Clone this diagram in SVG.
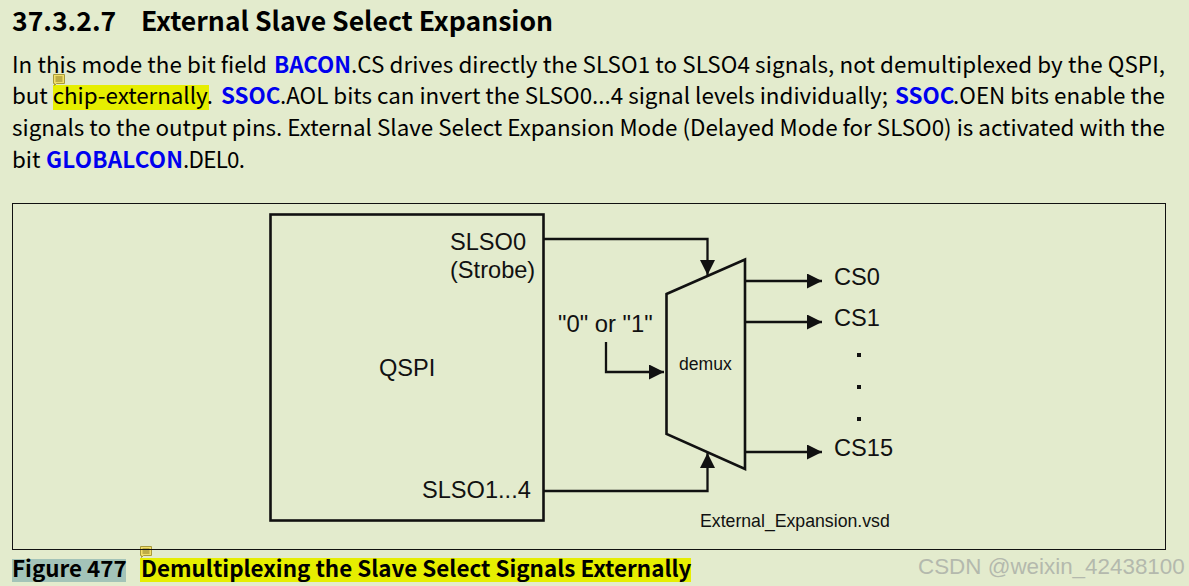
<svg xmlns="http://www.w3.org/2000/svg" width="1189" height="586" viewBox="0 0 1189 586">
<style>
.doc{font-family:"Noto Sans CJK SC","Noto Sans",sans-serif;fill:#000}
.body{font-size:22.400px}
.b{font-weight:700}
.link{font-weight:700;fill:#0000ee}
.fig{font-family:"Liberation Sans",Arial,sans-serif;fill:#111}
.big{font-size:23.600px}
.ln{fill:none;stroke:#111;stroke-width:2.300}
.thick{fill:none;stroke:#111;stroke-width:2.600}
.note{fill:#f2e06a;stroke:#a89a3a;stroke-width:1}
.noteline{stroke:#8a7a20;stroke-width:1}
</style>
<defs>
<marker id="ah" markerUnits="userSpaceOnUse" markerWidth="15" markerHeight="15" refX="15" refY="7.500" orient="auto"><path d="M0 0L15 7.500L0 15Z" fill="#111"/></marker>
</defs>
<rect width="1189" height="586" fill="#e3ebcd"/>
<rect x="53" y="85" width="156" height="25" fill="#e6ee00"/>
<rect x="12" y="559" width="114" height="23" fill="#a3c3b8"/>
<rect x="140" y="558" width="551" height="24" fill="#e6ee00"/>
<g id="heading"><text class="doc b" x="12" y="31" font-size="26.550">37.3.2.7</text><text class="doc b" x="141" y="31" font-size="26.550">External Slave Select Expansion</text></g>
<g id="paragraph">
<text class="doc body" x="12" y="73"><tspan x="12" textLength="255">In this mode the bit field</tspan> <tspan class="link" x="274" textLength="77">BACON</tspan><tspan x="351" textLength="814">.CS drives directly the SLSO1 to SLSO4 signals, not demultiplexed by the QSPI,</tspan></text>
<text class="doc body" x="12" y="104"><tspan x="12" textLength="201">but chip-externally.</tspan> <tspan class="link" x="221">SSOC</tspan><tspan x="280" textLength="608">.AOL bits can invert the SLSO0...4 signal levels individually;</tspan> <tspan class="link" x="895">SSOC</tspan><tspan x="953" textLength="212">.OEN bits enable the</tspan></text>
<text class="doc body" x="12" y="136" textLength="1153">signals to the output pins. External Slave Select Expansion Mode (Delayed Mode for SLSO0) is activated with the</text>
<text class="doc body" x="12" y="168">bit <tspan class="link" x="46" textLength="137">GLOBALCON</tspan><tspan x="183" textLength="62">.DEL0.</tspan></text>
</g>
<g id="comment-1"><path class="note" d="M53.500 74.500H64.500V83.500H56.500L54.500 85.500V83.500H53.500Z"/><path class="noteline" d="M55.500 77H62.500M55.500 79H62.500M55.500 81H62.500"/></g>
<g id="comment-2"><path class="note" d="M140.500 546.500H151.500V555.500H143.500L141.500 557.500V555.500H140.500Z"/><path class="noteline" d="M142.500 549H149.500M142.500 551H149.500M142.500 553H149.500"/></g>
<rect x="12.500" y="203.500" width="1153" height="346" fill="none" stroke="#111" stroke-width="1"/>
<g id="connectors">
<path class="ln" d="M544 239H707.500V275" marker-end="url(#ah)"/>
<path class="ln" d="M544 491H707.500V453" marker-end="url(#ah)"/>
<path class="ln" d="M606 342V372H664" marker-end="url(#ah)"/>
<path class="ln" d="M745 281H822" marker-end="url(#ah)"/>
<path class="ln" d="M745 322H822" marker-end="url(#ah)"/>
<path class="ln" d="M745 452H822" marker-end="url(#ah)"/>
</g>
<g id="qspi">
<rect class="thick" x="270.500" y="214.500" width="273" height="306"/>
<text class="fig big" x="379" y="376">QSPI</text>
<text class="fig big" x="450" y="250">SLSO0</text>
<text class="fig big" x="450" y="278">(Strobe)</text>
<text class="fig big" x="422" y="498">SLSO1...4</text>
</g>
<g id="demux">
<path class="thick" d="M666.500 294L745 259.500V469L666.500 434Z"/>
<text class="fig" x="679" y="370" font-size="17.600">demux</text>
</g>
<g id="labels">
<text class="fig" x="558" y="332" font-size="23.800">"0" or "1"</text>
<text class="fig big" x="834" y="285">CS0</text>
<text class="fig big" x="834" y="326">CS1</text>
<text class="fig big" x="834" y="456">CS15</text>
<rect x="857" y="353" width="4" height="4" fill="#111"/>
<rect x="857" y="385" width="4" height="4" fill="#111"/>
<rect x="857" y="417" width="4" height="4" fill="#111"/>
<text class="fig" x="700" y="527" font-size="17.700">External_Expansion.vsd</text>
</g>
<g id="caption"><text class="doc b" x="12" y="577" font-size="22.400">Figure 477</text><text class="doc b" x="141" y="577" font-size="22.400">Demultiplexing the Slave Select Signals Externally</text></g>
<text x="918" y="574" font-family="'Liberation Sans',Arial,sans-serif" font-size="22.400" fill="#b4b9ad">CSDN @weixin_42438100</text>
</svg>
